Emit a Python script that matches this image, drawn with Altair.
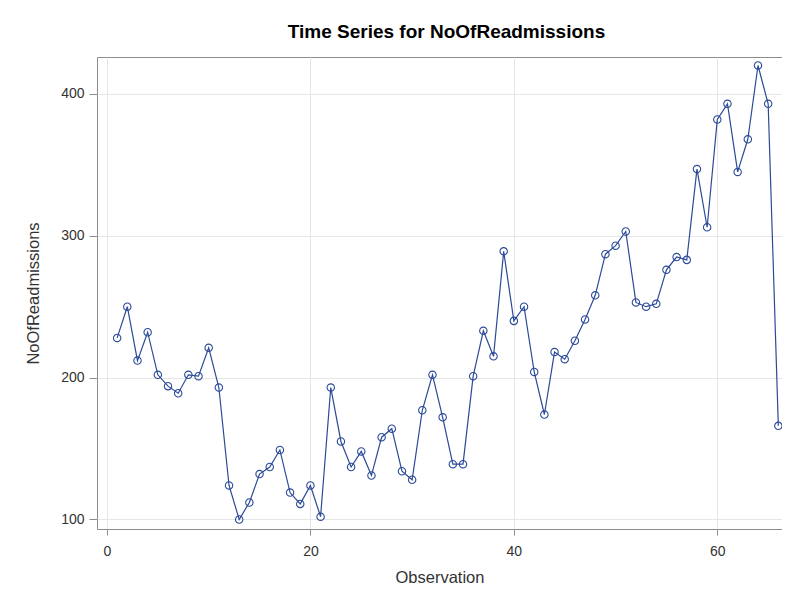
import altair as alt
import pandas as pd

observation = list(range(1, 67))
readmissions = [
    228, 250, 212, 232, 202, 194, 189, 202, 201, 221,
    193, 124, 100, 112, 132, 137, 149, 119, 111, 124,
    102, 193, 155, 137, 148, 131, 158, 164, 134, 128,
    177, 202, 172, 139, 139, 201, 233, 215, 289, 240,
    250, 204, 174, 218, 213, 226, 241, 258, 287, 293,
    303, 253, 250, 252, 276, 285, 283, 347, 306, 382,
    393, 345, 368, 420, 393, 166,
]
x_ticks = [0, 20, 40, 60]
y_ticks = [100, 200, 300, 400]

df = pd.DataFrame({"Observation": observation, "NoOfReadmissions": readmissions})

COLOR = "#2b4a98"
FONT = "Liberation Sans"
W, H = 685, 472
PAD_L, PAD_T, PAD_B = 89, 49, 60

x_enc = alt.X(
    "Observation:Q",
    title="Observation",
    scale=alt.Scale(domain=[-0.98, 66.36], nice=False, zero=False),
    axis=alt.Axis(values=x_ticks, grid=True, domain=False, tickSize=6,
                  labelPadding=9, titlePadding=11),
)
y_enc = alt.Y(
    "NoOfReadmissions:Q",
    title="NoOfReadmissions",
    scale=alt.Scale(domain=[93.3, 426], nice=False, zero=False),
    axis=alt.Axis(values=y_ticks, grid=True, domain=False, tickSize=8,
                  labelPadding=5, titlePadding=19),
)

base = alt.Chart(df).encode(x=x_enc, y=y_enc)
line = base.mark_line(color=COLOR, strokeWidth=1.2)
points = base.mark_point(shape="circle", filled=False, color=COLOR, size=55, strokeWidth=1.1, opacity=1)

chart = (
    alt.layer(line, points)
    .properties(
        width=W,
        height=H,
        title=alt.TitleParams("Time Series for NoOfReadmissions", fontSize=19, fontWeight="bold",
                              font=FONT, color="#000000", anchor="middle", offset=15, dx=7),
        autosize=alt.AutoSizeParams(type="none"),
        padding={"left": PAD_L, "top": PAD_T, "right": 0, "bottom": PAD_B},
    )
    .configure_view(stroke="#8c8c8c", strokeWidth=1)
    .configure_axis(
        labelFont=FONT, titleFont=FONT, labelFontSize=14, titleFontSize=16.5,
        labelColor="#333333", titleColor="#333333", titleFontWeight="normal",
        gridColor="#e6e6e6", gridWidth=1, tickColor="#8c8c8c",
    )
)

chart.save("out.html", embed_options={"renderer": "svg", "actions": False})
